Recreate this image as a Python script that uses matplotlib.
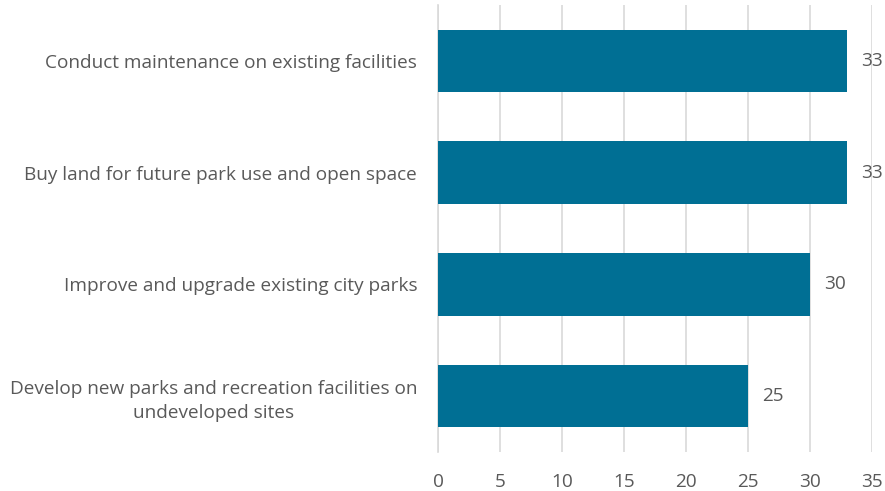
import matplotlib
matplotlib.use("Agg")
import matplotlib.pyplot as plt

categories = [
    "Develop new parks and recreation facilities on\nundeveloped sites",
    "Improve and upgrade existing city parks",
    "Buy land for future park use and open space",
    "Conduct maintenance on existing facilities",
]
values = [25, 30, 33, 33]
x_ticks = [0, 5, 10, 15, 20, 25, 30, 35]

bar_color = "#006F94"
text_color = "#595959"
grid_color = "#D9D9D9"
fs = 13.7

plt.rcParams["font.family"] = ["Open Sans", "DejaVu Sans"]

fig = plt.figure(figsize=(8.85, 4.91), dpi=100)
ax = fig.add_axes([0.4949, 0.0794, 0.4904, 0.9104])

ypos = range(len(categories))
ax.barh(ypos, values, height=0.56, color=bar_color, zorder=3)

for y, v in zip(ypos, values):
    ax.annotate(str(v), xy=(v, y), xytext=(10, 0), textcoords="offset points",
                va="center", ha="left", fontsize=fs, color=text_color)

ax.set_xlim(0, 35)
ax.set_ylim(-0.5, 3.5)
ax.set_xticks(x_ticks)
ax.set_xticklabels([str(t) for t in x_ticks])
ax.set_yticks(list(ypos))
ax.set_yticklabels(categories, ha="right", multialignment="center", linespacing=1.45)
ax.tick_params(axis="y", length=0, pad=15, labelsize=fs, labelcolor=text_color)
ax.tick_params(axis="x", length=0, pad=15, labelsize=fs, labelcolor=text_color)

ax.grid(axis="x", color=grid_color, linewidth=1.2, zorder=0)
for s in ["top", "right", "bottom"]:
    ax.spines[s].set_visible(False)
ax.spines["left"].set_color(grid_color)
ax.spines["left"].set_linewidth(1.2)

fig.savefig("out.png", dpi=100)
